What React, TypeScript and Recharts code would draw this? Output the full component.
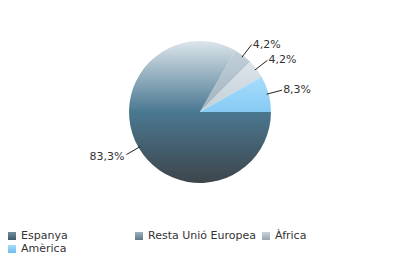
import { Cell, Pie, PieChart } from 'recharts'

const regions = ['Espanya', 'Resta Unió Europea', 'Àfrica', 'Amèrica']
const shares = [83.3, 4.2, 4.2, 8.3]
const shareLabels = ['83,3%', '4,2%', '4,2%', '8,3%']

const GRAD = [
  { id: 'g-esp', stops: [['0%', '#dce5eb'], ['50%', '#4a7891'], ['100%', '#3e454b']] },
  { id: 'g-ue', stops: [['0%', '#c3d0d9'], ['100%', '#9fb2be']] },
  { id: 'g-afr', stops: [['0%', '#dde5ea'], ['100%', '#c2ced6']] },
  { id: 'g-ame', stops: [['0%', '#a8dcfb'], ['100%', '#86cbf5']] },
]
const ICON = [
  'linear-gradient(#6e8e9e, #3f5a68)',
  'linear-gradient(#9fb2be, #5f7888)',
  'linear-gradient(#c7d2da, #97a8b4)',
  'linear-gradient(#a8dcfb, #6fbcee)',
]

const data = regions.map((name, i) => ({ name, value: shares[i], label: shareLabels[i] }))

const RAD = Math.PI / 180

function SliceLabel(props: any) {
  const { cx, cy, midAngle, outerRadius, index } = props
  const cos = Math.cos(-midAngle * RAD)
  const sin = Math.sin(-midAngle * RAD)
  const x1 = cx + (outerRadius - 2) * cos
  const y1 = cy + (outerRadius - 2) * sin
  const x2 = cx + (outerRadius + 14) * cos
  const y2 = cy + (outerRadius + 14) * sin
  const right = cos >= 0
  return (
    <g>
      <line x1={x1} y1={y1} x2={x2} y2={y2} stroke="#222" strokeWidth={1} />
      <text x={x2 + (right ? 1 : -2)} y={y2} dy={right ? 0 : 2} fontSize={11}
        fontFamily="DejaVu Sans, sans-serif" fill="#333"
        textAnchor={right ? 'start' : 'end'} dominantBaseline="middle">
        {data[index].label}
      </text>
    </g>
  )
}

export default function App() {
  return (
    <div style={{ position: 'relative', width: 398, height: 274, background: '#fff' }}>
      <style>{'body{margin:0}'}</style>
      <PieChart width={398} height={274} margin={{ top: 0, right: 0, bottom: 0, left: 0 }}>
        <defs>
          {GRAD.map(g => (
            <linearGradient key={g.id} id={g.id} x1="0" y1="0" x2="0" y2="1">
              {g.stops.map(([o, c]) => <stop key={o} offset={o} stopColor={c} />)}
            </linearGradient>
          ))}
        </defs>
        <Pie data={data} dataKey="value" nameKey="name" cx={200} cy={112}
          outerRadius={71} startAngle={360} endAngle={0} stroke="none"
          label={SliceLabel} labelLine={false} isAnimationActive={false}>
          {data.map((d, i) => <Cell key={d.name} fill={`url(#${GRAD[i].id})`} />)}
        </Pie>
      </PieChart>
      <div style={{
        position: 'absolute', left: 8, top: 229, width: 390,
        display: 'grid', gridTemplateColumns: '127px 127px 127px',
        fontFamily: 'DejaVu Sans, sans-serif', fontSize: 11, color: '#333',
        lineHeight: '13px',
      }}>
        {regions.map((r, i) => (
          <div key={r} style={{ display: 'flex', alignItems: 'center', whiteSpace: 'nowrap' }}>
            <span style={{ width: 8, height: 8, background: ICON[i], marginRight: 5, display: 'inline-block' }} />
            {r}
          </div>
        ))}
      </div>
    </div>
  )
}
